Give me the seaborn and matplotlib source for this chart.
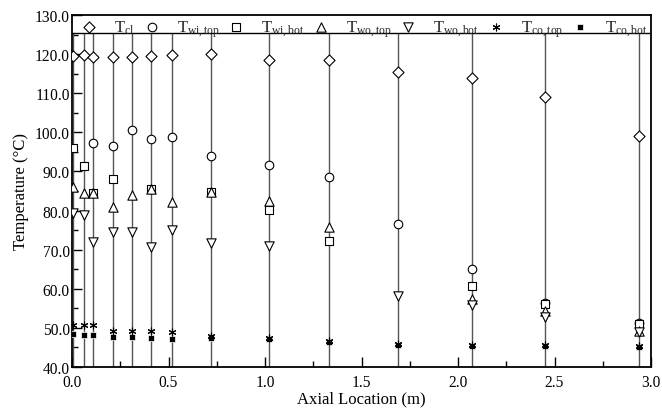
import numpy as np
import pandas as pd
import matplotlib
matplotlib.use("Agg")
import matplotlib.pyplot as plt
import seaborn as sns
from matplotlib.ticker import MultipleLocator, FormatStrFormatter

nan = np.nan
x_loc = [0.005, 0.06, 0.11, 0.21, 0.31, 0.41, 0.52, 0.72, 1.02, 1.33, 1.69, 2.07, 2.45, 2.94]
T_cl = [119.5, 119.9, 119.2, 119.3, 119.3, 119.6, 119.9, 120.1, 118.5, 118.5, 115.4, 113.8, 109.0, 99.0]
T_wi_top = [nan, nan, 97.3, 96.4, 100.7, 98.3, 98.9, 93.9, 91.6, 88.5, 76.5, 65.0, 56.4, 51.3]
T_wi_bot = [96.0, 91.5, 84.5, 88.1, nan, 85.6, nan, 84.8, 80.1, 72.3, nan, 60.8, 56.0, 51.0]
T_wo_top = [86.1, 84.6, 84.5, 80.8, 84.0, 85.6, 82.1, 84.8, 82.4, 75.7, nan, 57.5, 54.3, 49.3]
T_wo_bot = [79.3, 78.9, 71.9, 74.4, 74.6, 70.6, 75.0, 71.7, 71.0, nan, 58.1, 55.8, 52.8, 49.0]
T_co_top = [50.7, 50.8, 50.7, 49.3, 49.1, 49.1, 48.9, 48.0, 47.4, 46.7, 46.0, 45.7, 45.6, 45.4]
T_co_bot = [48.4, 48.3, 48.1, 47.6, 47.6, 47.3, 47.2, 47.3, 47.1, 46.4, 45.7, 45.4, 45.3, 45.1]

labels = [r'T$_{\mathrm{cl}}$', r'T$_{\mathrm{wi,top}}$', r'T$_{\mathrm{wi,bot}}$',
          r'T$_{\mathrm{wo,top}}$', r'T$_{\mathrm{wo,bot}}$', r'T$_{\mathrm{co,top}}$',
          r'T$_{\mathrm{co,bot}}$']
series = [T_cl, T_wi_top, T_wi_bot, T_wo_top, T_wo_bot, T_co_top, T_co_bot]

sns.set_theme(style="white")
plt.rcParams['font.family'] = ['Liberation Serif', 'DejaVu Serif']
plt.rcParams['mathtext.fontset'] = 'custom'
plt.rcParams['mathtext.rm'] = 'Liberation Serif'
plt.rcParams['mathtext.it'] = 'Liberation Serif:italic'

fig = plt.figure(figsize=(6.62, 4.10), dpi=100)
ax = fig.add_axes([72/662, 1-368/410, (651-72)/662, (368-16)/410])

legend_top = 125.4
ax.vlines(x_loc, 40, legend_top, color='#555555', lw=1.0, zorder=1)
ax.axhline(legend_top, color='black', lw=1.0, zorder=2)

styles = [
    dict(marker='D', s=32, facecolor='white', edgecolor='black', linewidth=0.8, zorder=3),
    dict(marker='o', s=38, facecolor='white', edgecolor='black', linewidth=0.8, zorder=3),
    dict(marker='s', s=28, facecolor='white', edgecolor='black', linewidth=0.8, zorder=3),
    dict(marker='^', s=45, facecolor='white', edgecolor='black', linewidth=0.8, zorder=3),
    dict(marker='v', s=45, facecolor='white', edgecolor='black', linewidth=0.8, zorder=3),
    dict(marker=(6, 2, 0), s=25, color='black', linewidth=0.8, zorder=5),
    dict(marker='s', s=15, color='black', linewidth=0.5, zorder=4),
]

for lab, vals, st in zip(labels, series, styles):
    df = pd.DataFrame({'x': x_loc, 'T': vals})
    sns.scatterplot(data=df, x='x', y='T', ax=ax, label=lab, **st)

ax.set_xlim(0, 3.0)
ax.set_ylim(40, 130)
ax.xaxis.set_major_locator(MultipleLocator(0.5))
ax.xaxis.set_minor_locator(MultipleLocator(0.25))
ax.yaxis.set_major_locator(MultipleLocator(10))
ax.yaxis.set_minor_locator(MultipleLocator(5))
ax.xaxis.set_major_formatter(FormatStrFormatter('%.1f'))
ax.yaxis.set_major_formatter(FormatStrFormatter('%.1f'))
ax.tick_params(which='both', direction='in', top=False, right=False,
               bottom=True, left=True, labelsize=11.2, colors='black')
ax.tick_params(axis='y', pad=1.5)
ax.tick_params(axis='x', pad=5)
ax.tick_params(which='major', length=7, width=1)
ax.tick_params(which='minor', length=4, width=1)
for sp in ax.spines.values():
    sp.set_color('black')
    sp.set_linewidth(1.3)

ax.set_xlabel('Axial Location (m)', fontsize=12, color='black', labelpad=0)
ax.set_ylabel('Temperature (°C)', fontsize=12, color='black', labelpad=4)

leg = ax.legend(loc='upper left', bbox_to_anchor=(0.01, 1.0, 0.99, 0), mode='expand',
                ncol=7, frameon=False, handlelength=1.0, handletextpad=1.0,
                borderaxespad=0.0, borderpad=0.2, fontsize=12, columnspacing=0.5)

fig.savefig('out.png', dpi=100)
